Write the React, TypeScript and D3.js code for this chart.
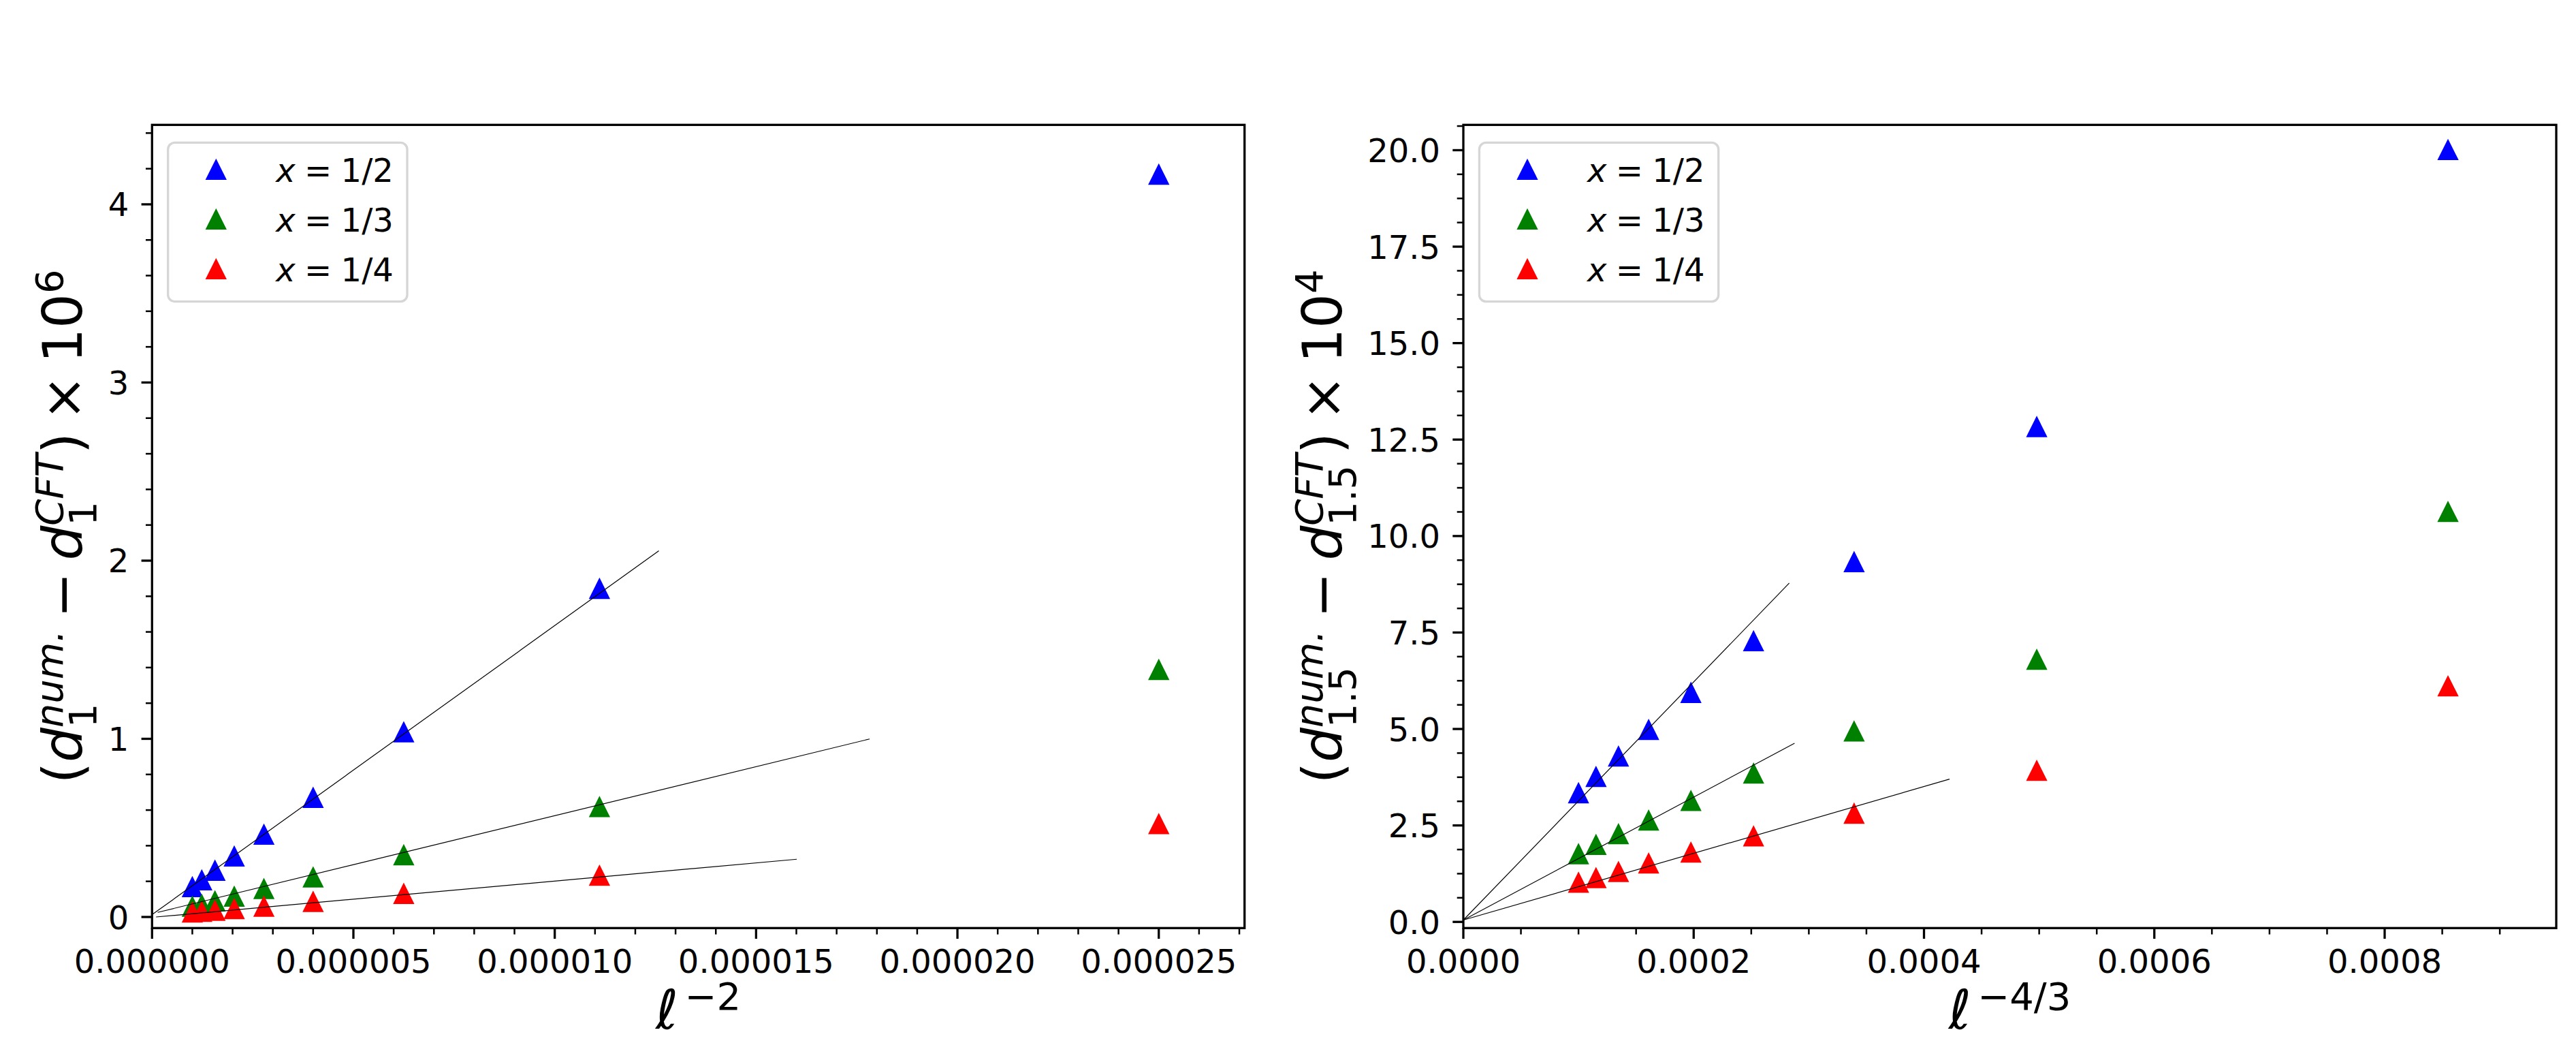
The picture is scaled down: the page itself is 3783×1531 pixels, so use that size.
import * as d3 from "d3";

const W = 3783;
const H = 1531;

// left panel: x = l^-2 for l = 200, 300, ..., 1000
const invL2 = [2.5e-5, 1.1111e-5, 6.25e-6, 4.0e-6, 2.7778e-6, 2.0408e-6, 1.5625e-6, 1.2346e-6, 1.0e-6];
const d1Half = [4.17, 1.845, 1.04, 0.672, 0.465, 0.343, 0.263, 0.209, 0.171];
const d1Third = [1.39, 0.62, 0.35, 0.225, 0.16, 0.117, 0.091, 0.071, 0.061];
const d1Quarter = [0.524, 0.235, 0.133, 0.088, 0.061, 0.047, 0.038, 0.032, 0.028];
// fitted lines, two end points each
const fit1Half = [[0, 0.013], [1.2585e-5, 2.055]];
const fit1Third = [[1.4e-7, 0.026], [1.782e-5, 0.999]];
const fit1Quarter = [[1.0e-7, 0.0], [1.601e-5, 0.324]];

// right panel: x = l^-4/3
const invL43 = [8.55e-4, 4.979e-4, 3.393e-4, 2.52e-4, 1.976e-4, 1.609e-4, 1.347e-4, 1.152e-4, 1.0e-4];
const d15Half = [20.02, 12.84, 9.34, 7.29, 5.95, 4.99, 4.3, 3.77, 3.35];
const d15Third = [10.64, 6.81, 4.95, 3.86, 3.15, 2.64, 2.29, 2.01, 1.77];
const d15Quarter = [6.12, 3.93, 2.82, 2.23, 1.81, 1.53, 1.31, 1.15, 1.03];
const fit15Half = [[0, 0.048], [2.83e-4, 8.78]];
const fit15Third = [[0, 0.048], [2.876e-4, 4.63]];
const fit15Quarter = [[0, 0.048], [4.222e-4, 3.7]];

const legendLabels = ["1/2", "1/3", "1/4"];
const colors = ["#0000ff", "#008000", "#ff0000"];

const xTicksLeft = [0, 5e-6, 1e-5, 1.5e-5, 2e-5, 2.5e-5];
const yTicksLeft = [0, 1, 2, 3, 4];
const xTicksRight = [0, 0.0002, 0.0004, 0.0006, 0.0008];
const yTicksRight = [0, 2.5, 5, 7.5, 10, 12.5, 15, 17.5, 20];

const TICK_FS = 48;
const LABEL_FS = 80;
const FONT = '"DejaVu Sans"';

type Run = { t?: string; it?: boolean; lv?: number; stack?: boolean; gap?: number };

const ctx = document.createElement("canvas").getContext("2d")!;
function measure(t: string, size: number, it: boolean) {
  ctx.font = `${it ? "italic " : ""}${size}px ${FONT}`;
  return ctx.measureText(t).width;
}

// lays out a small piece of math text (sub/superscripts) as separate <text> runs
function MathText({ runs, size, anchor = "middle" }: { runs: Run[]; size: number; anchor?: string }) {
  let x = 0;
  let prevStart = 0;
  let prevW = 0;
  const placed: any[] = [];
  for (const r of runs) {
    if (r.gap) { x += r.gap * size; continue; }
    const fs = r.lv ? size * 0.7 : size;
    const w = measure(r.t!, fs, !!r.it);
    let px;
    if (r.stack) {
      px = prevStart;
      x = prevStart + Math.max(prevW, w);
    } else {
      px = x;
      x += w;
      prevStart = px;
      prevW = w;
    }
    const dy = r.lv === 1 ? -0.35 * size : r.lv === -1 ? 0.26 * size : 0;
    placed.push({ ...r, px, dy, fs });
  }
  const off = anchor === "middle" ? -x / 2 : 0;
  return (
    <g>
      {placed.map((p, i) => (
        <text key={i} x={p.px + off} y={p.dy} fontSize={p.fs} fontStyle={p.it ? "italic" : "normal"}>
          {p.t}
        </text>
      ))}
    </g>
  );
}

const yLabel = (sub: string, pow: string): Run[] => [
  { t: "(" },
  { t: "d", it: true },
  { t: "num.", it: true, lv: 1 },
  { t: sub, lv: -1, stack: true },
  { gap: 0.22 },
  { t: "\u2212" },
  { gap: 0.22 },
  { t: "d", it: true },
  { t: "CFT", it: true, lv: 1 },
  { t: sub, lv: -1, stack: true },
  { t: ")" },
  { gap: 0.22 },
  { t: "\u00d7" },
  { gap: 0.22 },
  { t: "10" },
  { t: pow, lv: 1 },
];

const tri = (h: number) => `M0,${-h}L${h},${h}L${-h},${h}Z`;

type PanelProps = {
  left: number; right: number; top: number; bottom: number;
  xDomain: number[]; yDomain: number[];
  xTicks: number[]; xMinor: number[]; xFmt: (v: number) => string;
  yTicks: number[]; yMinor: number[]; yFmt: (v: number) => string;
  xs: number[]; ys: number[][]; fits: number[][][];
  xLabel: Run[]; yLabelRuns: Run[]; yLabelX: number;
};

function Panel(p: PanelProps) {
  const x = d3.scaleLinear().domain(p.xDomain).range([p.left, p.right]);
  const y = d3.scaleLinear().domain(p.yDomain).range([p.bottom, p.top]);
  const line = d3.line<number[]>().x((d) => x(d[0])).y((d) => y(d[1]));
  const cy = (p.top + p.bottom) / 2;
  const cx = (p.left + p.right) / 2;
  return (
    <g>
      {p.ys.map((s, si) =>
        s.map((v, i) => (
          <path key={`m-${si}-${i}`} d={tri(15.65)} transform={`translate(${x(p.xs[i])},${y(v)})`} fill={colors[si]} />
        ))
      )}
      {p.fits.map((f, i) => (
        <path key={`f-${i}`} d={line(f)!} fill="none" stroke="#000" strokeWidth={1.2} />
      ))}
      <rect x={p.left} y={p.top} width={p.right - p.left} height={p.bottom - p.top} fill="none" stroke="#000" strokeWidth={3.3} />

      {p.xTicks.map((t) => (
        <g key={`xt-${t}`}>
          <line x1={x(t)} x2={x(t)} y1={p.bottom} y2={p.bottom + 15.7} stroke="#000" strokeWidth={3.3} />
          <text x={x(t)} y={1428} textAnchor="middle" fontSize={TICK_FS}>{p.xFmt(t)}</text>
        </g>
      ))}
      {p.xMinor.map((t) => (
        <line key={`xm-${t}`} x1={x(t)} x2={x(t)} y1={p.bottom} y2={p.bottom + 9.3} stroke="#000" strokeWidth={2.5} />
      ))}
      {p.yTicks.map((t) => (
        <g key={`yt-${t}`}>
          <line x1={p.left - 15.7} x2={p.left} y1={y(t)} y2={y(t)} stroke="#000" strokeWidth={3.3} />
          <text x={p.left - 34} y={y(t) + 17.5} textAnchor="end" fontSize={TICK_FS}>{p.yFmt(t)}</text>
        </g>
      ))}
      {p.yMinor.map((t) => (
        <line key={`ym-${t}`} x1={p.left - 9.3} x2={p.left} y1={y(t)} y2={y(t)} stroke="#000" strokeWidth={2.5} />
      ))}

      <g transform={`translate(${cx},1510)`}>
        <MathText runs={p.xLabel} size={LABEL_FS} />
      </g>
      <g transform={`translate(${p.yLabelX},${cy}) rotate(-90)`}>
        <MathText runs={p.yLabelRuns} size={LABEL_FS} />
      </g>

      <rect x={p.left + 23.4} y={p.top + 26} width={351.3} height={233.4} rx={10} fill="#fff" stroke="#d6d6d6" strokeWidth={3.3} />
      {legendLabels.map((l, i) => (
        <g key={`lg-${i}`}>
          <path d={tri(15.65)} transform={`translate(${p.left + 94},${p.top + 65 + i * 73})`} fill={colors[i]} />
          <g transform={`translate(${p.left + 182},${p.top + 83.4 + i * 73})`}>
            <MathText runs={[{ t: "x", it: true }, { gap: 0.278 }, { t: "=" }, { gap: 0.278 }, { t: l }]} size={TICK_FS} anchor="start" />
          </g>
        </g>
      ))}
    </g>
  );
}

const minor = (n: number, step: number, every: number) =>
  d3.range(0, n + 1).filter((i) => i % every !== 0).map((i) => i * step);

export default function App() {
  const top = 183.3;
  const bottom = 1362.3;
  return (
    <div style={{ position: "absolute", left: 0, top: 0 }}>
      <svg width={W} height={H} style={{ display: "block" }} fontFamily={FONT}>
        <rect width={W} height={H} fill="#fff" />
        <Panel
          left={223.3} right={1827.7} top={top} bottom={bottom}
          xDomain={[0, 2.713e-5]} yDomain={[-0.0623, 4.446]}
          xTicks={xTicksLeft} xMinor={minor(27, 1e-6, 5)} xFmt={d3.format(".6f")}
          yTicks={yTicksLeft} yMinor={minor(22, 0.2, 5)} yFmt={d3.format("d")}
          xs={invL2} ys={[d1Half, d1Third, d1Quarter]} fits={[fit1Half, fit1Third, fit1Quarter]}
          xLabel={[{ t: "\u2113", it: true }, { gap: 0.12 }, { t: "\u22122", lv: 1 }]}
          yLabelRuns={yLabel("1", "6")} yLabelX={120}
        />
        <Panel
          left={2149} right={3754} top={top} bottom={bottom}
          xDomain={[0, 9.49e-4]} yDomain={[-0.16, 20.656]}
          xTicks={xTicksRight} xMinor={minor(18, 5e-5, 4)} xFmt={d3.format(".4f")}
          yTicks={yTicksRight} yMinor={minor(33, 0.625, 4)} yFmt={d3.format(".1f")}
          xs={invL43} ys={[d15Half, d15Third, d15Quarter]} fits={[fit15Half, fit15Third, fit15Quarter]}
          xLabel={[{ t: "\u2113", it: true }, { gap: 0.12 }, { t: "\u22124/3", lv: 1 }]}
          yLabelRuns={yLabel("1.5", "4")} yLabelX={1970}
        />
      </svg>
    </div>
  );
}
